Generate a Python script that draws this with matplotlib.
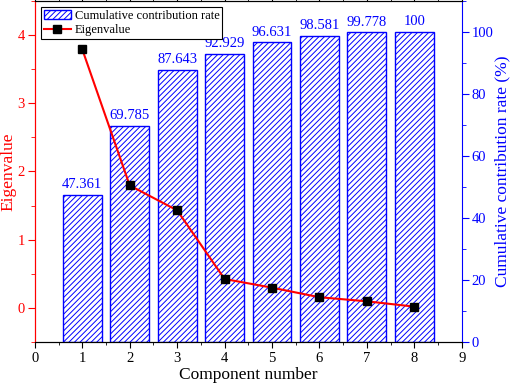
import numpy as np
import matplotlib.pyplot as plt
from matplotlib.ticker import MultipleLocator

plt.rcParams['font.family'] = ['Liberation Serif', 'DejaVu Serif']
plt.rcParams['hatch.color'] = 'blue'
plt.rcParams['hatch.linewidth'] = 0.7

# datos
components = [1, 2, 3, 4, 5, 6, 7, 8]
eigenvalues = [3.789, 1.794, 1.429, 0.423, 0.296, 0.156, 0.096, 0.018]
cumulative = [47.361, 69.785, 87.643, 92.929, 96.631, 98.581, 99.778, 100]
bar_labels = ['47.361', '69.785', '87.643', '92.929', '96.631', '98.581', '99.778', '100']

fig = plt.figure(figsize=(5.12, 3.86), dpi=100)
ax = fig.add_axes([0.068, 0.114, 0.834, 0.884])
ax2 = ax.twinx()

# barras en el eje derecho
bars = ax2.bar(components, cumulative, width=0.82, facecolor='white',
               edgecolor='blue', hatch='//////', linewidth=1.0,
               label='Cumulative contribution rate', zorder=1)
for x, v, s in zip(components, cumulative, bar_labels):
    ax2.text(x, v + 1.2, s, ha='center', va='bottom', color='blue', fontsize=10.5)

# la linea va encima de las barras
ax.set_zorder(ax2.get_zorder() + 1)
ax.patch.set_visible(False)
line, = ax.plot(components, eigenvalues, color='red', lw=1.5, marker='s',
                ms=6, mfc='black', mec='black', label='Eigenvalue')

ax.set_xlim(0, 9)
ax.set_ylim(-0.5, 4.5)
ax2.set_ylim(0, 110)

ax.xaxis.set_major_locator(MultipleLocator(1))
ax.xaxis.set_minor_locator(MultipleLocator(0.5))
ax.yaxis.set_major_locator(MultipleLocator(1))
ax.yaxis.set_minor_locator(MultipleLocator(0.5))
ax2.yaxis.set_major_locator(MultipleLocator(20))
ax2.yaxis.set_minor_locator(MultipleLocator(10))

ax.tick_params(axis='x', which='both', top=True, direction='out', labelsize=10.5)
ax.tick_params(axis='x', which='major', length=4)
ax.tick_params(axis='x', which='minor', length=2)
ax.tick_params(axis='y', which='both', colors='red', labelsize=10.5, pad=2)
ax.tick_params(axis='y', which='major', length=5)
ax.tick_params(axis='y', which='minor', length=3)
ax2.tick_params(axis='y', which='both', colors='blue', labelsize=10.5, pad=2)
ax2.tick_params(axis='y', which='major', length=5)
ax2.tick_params(axis='y', which='minor', length=3)

ax.spines['left'].set_color('red')
ax2.spines['left'].set_color('red')
ax2.spines['right'].set_color('blue')
ax.spines['right'].set_visible(False)

ax.set_xlabel('Component number', fontsize=12.5, labelpad=1)
ax.set_ylabel('Eigenvalue', color='red', fontsize=12.5, labelpad=1)
ax2.set_ylabel('Cumulative contribution rate (%)', color='blue', fontsize=12.5, labelpad=1)

leg = ax.legend([bars, line], ['Cumulative contribution rate', 'Eigenvalue'],
                loc='upper left', fontsize=9, fancybox=False, framealpha=1,
                edgecolor='black', borderpad=0.2, handlelength=2.2,
                handletextpad=0.3, labelspacing=0.2, borderaxespad=0.5)
leg.get_frame().set_linewidth(0.8)

fig.savefig('out.png', dpi=100)
